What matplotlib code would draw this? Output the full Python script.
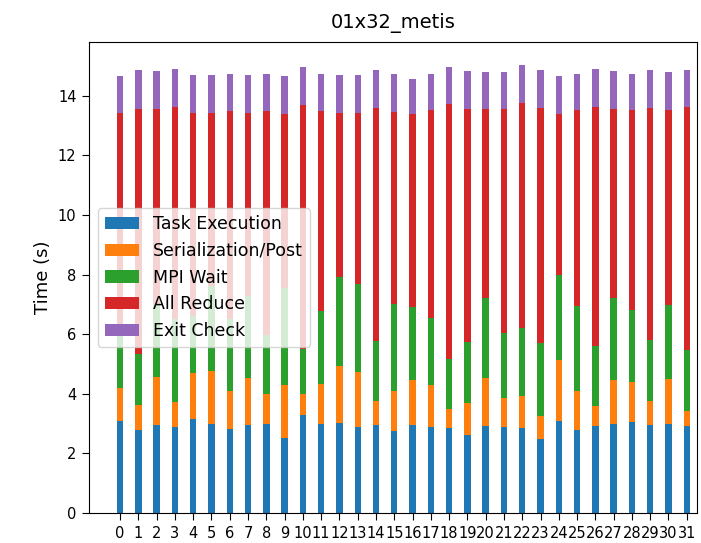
import matplotlib

matplotlib.use("Agg")
import matplotlib.pyplot as plt
import numpy as np

ranks = list(range(32))

# Zeitanteile je Rang (Sekunden)
task_execution = [3.08, 2.78, 2.95, 2.90, 3.17, 2.99, 2.82, 2.95, 2.99, 2.52, 3.29, 2.99,
                  3.03, 2.90, 2.95, 2.75, 2.96, 2.88, 2.84, 2.62, 2.92, 2.88, 2.84, 2.49,
                  3.09, 2.79, 2.92, 3.00, 3.05, 2.96, 3.00, 2.92]
serialization_post = [1.11, 0.85, 1.62, 0.82, 1.54, 1.79, 1.29, 1.58, 0.99, 1.76, 0.69, 1.33,
                      1.89, 1.84, 0.81, 1.36, 1.49, 1.40, 0.66, 1.06, 1.62, 0.97, 1.10, 0.77,
                      2.05, 1.32, 0.68, 1.45, 1.36, 0.80, 1.50, 0.51]
mpi_wait = [2.01, 1.69, 2.43, 2.78, 1.89, 2.82, 2.39, 2.74, 2.00, 3.28, 1.51, 2.47,
            2.99, 2.93, 2.01, 2.90, 2.47, 2.26, 1.68, 2.06, 2.66, 2.19, 2.26, 2.43,
            2.86, 2.82, 2.00, 2.77, 2.39, 2.05, 2.48, 2.05]
all_reduce = [7.23, 8.22, 6.54, 7.13, 6.83, 5.83, 6.97, 6.16, 7.49, 5.82, 8.19, 6.68,
              5.52, 5.76, 7.82, 6.45, 6.46, 6.97, 8.54, 7.81, 6.35, 7.51, 7.56, 7.90,
              5.38, 6.58, 8.03, 6.33, 6.71, 7.78, 6.53, 8.15]
exit_check = [1.23, 1.32, 1.29, 1.27, 1.26, 1.26, 1.27, 1.26, 1.27, 1.28, 1.27, 1.27,
              1.26, 1.26, 1.27, 1.28, 1.19, 1.23, 1.24, 1.28, 1.23, 1.23, 1.28, 1.28,
              1.28, 1.23, 1.27, 1.28, 1.23, 1.28, 1.27, 1.24]

labels = ["Task Execution", "Serialization/Post", "MPI Wait", "All Reduce", "Exit Check"]
series = [task_execution, serialization_post, mpi_wait, all_reduce, exit_check]

fig = plt.figure(figsize=(7.01, 5.43), dpi=100)
ax = fig.add_axes([0.127, 0.0552, 0.867, 0.867])

bottom = np.zeros(len(ranks))
for values, label in zip(series, labels):
    ax.bar(ranks, values, width=0.35, bottom=bottom, label=label)
    bottom += np.array(values)

ax.set_xticks(ranks)
ax.set_xticklabels([str(r) for r in ranks])
ax.set_xlim(-1.7, 31.55)
ax.tick_params(labelsize=10.5, length=5, pad=4)
ax.set_ylabel("Time (s)", fontsize=13)
ax.set_title("01x32_metis", fontsize=14, pad=10)
ax.legend(loc="center left", fontsize=12.5)

fig.savefig("out.png", dpi=100)
plt.close(fig)
